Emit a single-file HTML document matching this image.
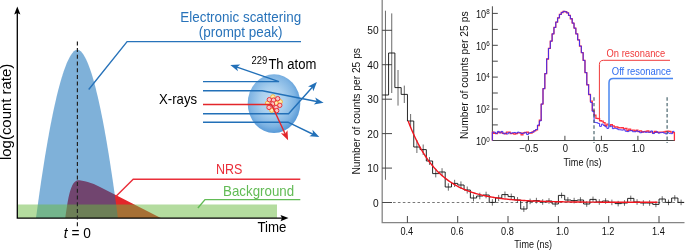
<!DOCTYPE html><html><head><meta charset="utf-8"><style>html,body{margin:0;padding:0;background:#fff}svg{display:block}text{font-family:"Liberation Sans",sans-serif}</style></head><body>
<svg width="685" height="250" viewBox="0 0 685 250">
<rect width="685" height="250" fill="#fff"/>
<path d="M65.3,218.1 C67.5,204 69.5,182.5 77.4,180.3 C83,180.3 92,182.8 100,186.9 L160.8,218.1 Z" fill="#e3262b"/>
<path d="M36.00,218.10 L37.02,210.47 L38.05,203.01 L39.07,195.71 L40.09,188.57 L41.12,181.60 L42.14,174.79 L43.17,168.15 L44.19,161.67 L45.21,155.36 L46.24,149.23 L47.26,143.25 L48.28,137.45 L49.31,131.83 L50.33,126.37 L51.36,121.08 L52.38,115.97 L53.40,111.03 L54.43,106.27 L55.45,101.69 L56.48,97.28 L57.50,93.06 L58.52,89.01 L59.55,85.15 L60.57,81.47 L61.59,77.98 L62.62,74.67 L63.64,71.55 L64.67,68.63 L65.69,65.90 L66.71,63.36 L67.74,61.02 L68.76,58.88 L69.78,56.95 L70.81,55.23 L71.83,53.72 L72.86,52.43 L73.88,51.36 L74.90,50.53 L75.93,49.95 L76.95,49.64 L77.97,49.66 L79.00,50.03 L80.02,50.66 L81.05,51.56 L82.07,52.70 L83.09,54.07 L84.12,55.67 L85.14,57.49 L86.16,59.53 L87.19,61.78 L88.21,64.24 L89.23,66.90 L90.26,69.78 L91.28,72.85 L92.31,76.12 L93.33,79.59 L94.35,83.25 L95.38,87.10 L96.40,91.15 L97.42,95.38 L98.45,99.81 L99.47,104.42 L100.50,109.22 L101.52,114.20 L102.54,119.36 L103.57,124.70 L104.59,130.23 L105.62,135.94 L106.64,141.82 L107.66,147.88 L108.69,154.12 L109.71,160.54 L110.73,167.13 L111.76,173.89 L112.78,180.83 L113.81,187.94 L114.83,195.23 L115.85,202.68 L116.88,210.31 L117.90,218.10 Z" fill="rgb(0,100,180)" fill-opacity="0.5"/>
<rect x="18" y="204.5" width="259" height="13.6" fill="rgb(106,185,64)" fill-opacity="0.5"/>
<path d="M17.3,12 V218.1 H283" fill="none" stroke="#000" stroke-width="1.3"/>
<path d="M17.3,6.5 L20.4,14.5 L17.3,13 L14.2,14.5 Z" fill="#000"/>
<path d="M288.5,218.1 L280.5,221.2 L282,218.1 L280.5,215 Z" fill="#000"/>
<path d="M77.4,226.3 V41.4" stroke="#222" stroke-width="1.2" stroke-dasharray="4,2.7" fill="none"/>
<path d="M88.7,89.5 L127.1,41.6 H301" fill="none" stroke="#2873ba" stroke-width="1.4"/>
<path d="M115.8,196.4 L133.2,179.2 H300.3" fill="none" stroke="#ea2f3a" stroke-width="1.4"/>
<path d="M197.9,208 L205,199.6 H300.3" fill="none" stroke="#62bb55" stroke-width="1.4"/>
<text x="180.3" y="21.8" font-size="15" fill="#2873ba" textLength="120.8" lengthAdjust="spacingAndGlyphs">Electronic scattering</text>
<text x="198.8" y="36.7" font-size="15" fill="#2873ba" textLength="83.6" lengthAdjust="spacingAndGlyphs">(prompt peak)</text>
<text x="215.9" y="174" font-size="14.6" fill="#ea2f3a" textLength="26.4" lengthAdjust="spacingAndGlyphs">NRS</text>
<text x="223.1" y="195.6" font-size="14.5" fill="#62bb55" textLength="71" lengthAdjust="spacingAndGlyphs">Background</text>
<text x="257.4" y="232" font-size="15" fill="#000" textLength="29" lengthAdjust="spacingAndGlyphs">Time</text>
<text x="63.8" y="237.8" font-size="15" fill="#000" textLength="27.1" lengthAdjust="spacingAndGlyphs"><tspan font-style="italic">t</tspan> = 0</text>
<text x="159.1" y="104.4" font-size="15" fill="#000" textLength="38" lengthAdjust="spacingAndGlyphs">X-rays</text>
<text x="251.4" y="63.8" font-size="10.2" fill="#000" textLength="15.8" lengthAdjust="spacingAndGlyphs">229</text>
<text x="268.4" y="68.7" font-size="15.2" fill="#000" textLength="47.9" lengthAdjust="spacingAndGlyphs">Th atom</text>
<text transform="translate(11.1,160) rotate(-90)" font-size="14.6" fill="#000" textLength="96.3" lengthAdjust="spacingAndGlyphs">log(count rate)</text>
<defs><radialGradient id="ag" cx="0.47" cy="0.45" r="0.58"><stop offset="0" stop-color="#c6e0f5"/><stop offset="0.4" stop-color="#a9cfee"/><stop offset="0.75" stop-color="#7fb4e3"/><stop offset="1" stop-color="#4d92d4"/></radialGradient></defs>
<ellipse cx="274" cy="103.6" rx="26.3" ry="29.4" fill="url(#ag)"/>
<g fill="none" stroke="#2270b8" stroke-width="1.4" stroke-linejoin="miter">
<path d="M203,81.6 H279 L237,67.2"/>
<path d="M203,90.7 H262.3 L318,101.7"/>
<path d="M203,113.7 H288.6 L312.5,87"/>
<path d="M203,122.2 H288 L314.5,135"/>
</g>
<path d="M230.30,64.90 L240.26,64.50 L236.92,67.16 L237.94,71.31 Z" fill="#2270b8"/>
<path d="M323.60,102.80 L313.77,104.47 L316.74,101.40 L315.21,97.41 Z" fill="#2270b8"/>
<path d="M316.90,82.00 L313.36,91.32 L312.22,87.21 L308.01,86.51 Z" fill="#2270b8"/>
<path d="M319.30,137.00 L309.36,136.18 L313.00,133.94 L312.51,129.70 Z" fill="#2270b8"/>
<circle cx="272.9" cy="96.9" r="2.2" fill="#fdeeb5" stroke="#f5b335" stroke-width="1"/>
<circle cx="267.6" cy="103.2" r="2.2" fill="#fdeeb5" stroke="#f5b335" stroke-width="1"/>
<circle cx="280.2" cy="101.8" r="2.2" fill="#fdeeb5" stroke="#f5b335" stroke-width="1"/>
<circle cx="271.8" cy="110.2" r="2.2" fill="#fdeeb5" stroke="#f5b335" stroke-width="1"/>
<circle cx="276" cy="103.2" r="2.2" fill="#fdeeb5" stroke="#f5b335" stroke-width="1"/>
<circle cx="269.3" cy="99.7" r="2.2" fill="#f9c3c3" stroke="#e8323a" stroke-width="1"/>
<circle cx="273.5" cy="100.1" r="2.2" fill="#f9c3c3" stroke="#e8323a" stroke-width="1"/>
<circle cx="277.7" cy="98.7" r="2.2" fill="#f9c3c3" stroke="#e8323a" stroke-width="1"/>
<circle cx="279.8" cy="105.3" r="2.2" fill="#f9c3c3" stroke="#e8323a" stroke-width="1"/>
<circle cx="269" cy="107.4" r="2.2" fill="#f9c3c3" stroke="#e8323a" stroke-width="1"/>
<circle cx="276" cy="107.4" r="2.2" fill="#f9c3c3" stroke="#e8323a" stroke-width="1"/>
<circle cx="276.7" cy="110.6" r="2.2" fill="#f9c3c3" stroke="#e8323a" stroke-width="1"/>
<circle cx="272.5" cy="103.9" r="2.2" fill="#f9c3c3" stroke="#e8323a" stroke-width="1"/>
<path d="M203,104.5 H271.5 L285.2,134" fill="none" stroke="#e3262b" stroke-width="1.4"/>
<path d="M288.10,140.20 L280.92,133.28 L285.16,133.85 L287.45,130.25 Z" fill="#e3262b"/>
<path d="M382.2,0 V222.7 H684.5" fill="none" stroke="#858585" stroke-width="1.3"/>
<path d="M382.2,202.5 H392" stroke="#333" stroke-width="0.9" fill="none"/>
<text transform="translate(378.60,206.50) scale(1.0,1)" font-size="10.2" text-anchor="end" fill="#111">0</text>
<path d="M382.2,168.1 H392" stroke="#333" stroke-width="0.9" fill="none"/>
<text transform="translate(378.60,172.06) scale(1.0,1)" font-size="10.2" text-anchor="end" fill="#111">10</text>
<path d="M382.2,133.6 H392" stroke="#333" stroke-width="0.9" fill="none"/>
<text transform="translate(378.60,137.62) scale(1.0,1)" font-size="10.2" text-anchor="end" fill="#111">20</text>
<path d="M382.2,99.2 H392" stroke="#333" stroke-width="0.9" fill="none"/>
<text transform="translate(378.60,103.18) scale(1.0,1)" font-size="10.2" text-anchor="end" fill="#111">30</text>
<path d="M382.2,64.7 H392" stroke="#333" stroke-width="0.9" fill="none"/>
<text transform="translate(378.60,68.74) scale(1.0,1)" font-size="10.2" text-anchor="end" fill="#111">40</text>
<path d="M382.2,30.3 H392" stroke="#333" stroke-width="0.9" fill="none"/>
<text transform="translate(378.60,34.30) scale(1.0,1)" font-size="10.2" text-anchor="end" fill="#111">50</text>
<path d="M407.4,222.7 V216" stroke="#333" stroke-width="0.9" fill="none"/>
<text transform="translate(406.80,235.30) scale(0.92,1)" font-size="10" text-anchor="middle" fill="#111">0.4</text>
<path d="M457.7,222.7 V216" stroke="#333" stroke-width="0.9" fill="none"/>
<text transform="translate(457.12,235.30) scale(0.92,1)" font-size="10" text-anchor="middle" fill="#111">0.6</text>
<path d="M508.0,222.7 V216" stroke="#333" stroke-width="0.9" fill="none"/>
<text transform="translate(507.44,235.30) scale(0.92,1)" font-size="10" text-anchor="middle" fill="#111">0.8</text>
<path d="M558.4,222.7 V216" stroke="#333" stroke-width="0.9" fill="none"/>
<text transform="translate(562.36,235.30) scale(0.92,1)" font-size="10" text-anchor="middle" fill="#111">1.0</text>
<path d="M608.7,222.7 V216" stroke="#333" stroke-width="0.9" fill="none"/>
<text transform="translate(608.08,235.30) scale(0.92,1)" font-size="10" text-anchor="middle" fill="#111">1.2</text>
<path d="M659.0,222.7 V216" stroke="#333" stroke-width="0.9" fill="none"/>
<text transform="translate(658.40,235.30) scale(0.92,1)" font-size="10" text-anchor="middle" fill="#111">1.4</text>
<text x="514.2" y="247.6" font-size="10.4" fill="#111" textLength="37.8" lengthAdjust="spacingAndGlyphs">Time (ns)</text>
<text transform="translate(360.1,174.6) rotate(-90)" font-size="10.3" fill="#111" textLength="126.6" lengthAdjust="spacingAndGlyphs">Number of counts per 25 ps</text>
<path d="M393,202.5 H684" stroke="#555" stroke-width="0.8" stroke-dasharray="2.6,2.3" fill="none"/>
<path d="M385.44,10.7 V179.8 M391.74,13.4 V93.0 M398.03,70.0 V105.6 M404.31,85.6 V103.0 M410.61,114.0 V128.0 M416.89,140.0 V153.0 M423.19,144.5 V155.0 M429.48,157.1 V164.9 M435.76,169.8 V177.4 M442.06,168.2 V175.8 M448.35,183.3 V190.7 M454.63,179.8 V187.0 M460.93,181.4 V188.6 M467.22,186.5 V193.5 M473.50,194.6 V201.4 M479.80,192.7 V199.3 M486.09,191.7 V198.3 M492.38,199.2 V205.6 M498.67,194.9 V201.1 M504.96,191.5 V197.7 M511.25,193.6 V199.6 M517.54,197.1 V202.9 M523.83,206.1 V211.9 M530.12,198.6 V204.2 M536.40,197.8 V203.4 M542.70,199.2 V204.8 M548.99,198.2 V203.8 M555.27,201.2 V206.8 M561.57,192.6 V198.2 M567.86,197.2 V202.8 M574.14,197.8 V203.4 M580.43,197.2 V202.8 M586.73,201.2 V206.8 M593.01,196.6 V202.2 M599.31,199.2 V204.8 M605.60,198.2 V203.8 M611.88,199.6 V205.2 M618.17,200.8 V206.4 M624.47,200.2 V205.8 M630.75,195.6 V201.2 M637.05,199.2 V204.8 M643.34,200.2 V205.8 M649.62,200.2 V205.8 M655.91,201.6 V207.2 M662.21,196.2 V201.8 M668.50,199.6 V205.2 M674.79,195.2 V200.8 M681.08,199.6 V205.2" stroke="#444" stroke-width="0.8" fill="none"/>
<path d="M382.30,95 V95 H388.59 V53 H394.88 V87.6 H401.17 V94.4 H407.46 V121 H413.75 V147 H420.04 V149.6 H426.33 V161 H432.62 V173.6 H438.91 V172 H445.20 V187 H451.49 V183.4 H457.78 V185 H464.07 V190 H470.36 V198 H476.65 V196 H482.94 V195 H489.23 V202.4 H495.52 V198 H501.81 V194.6 H508.10 V196.6 H514.39 V200 H520.68 V209 H526.97 V201.4 H533.26 V200.6 H539.55 V202 H545.84 V201 H552.13 V204 H558.42 V195.4 H564.71 V200 H571.00 V200.6 H577.29 V200 H583.58 V204 H589.87 V199.4 H596.16 V202 H602.45 V201 H608.74 V202.4 H615.03 V203.6 H621.32 V203 H627.61 V198.4 H633.90 V202 H640.19 V203 H646.48 V203 H652.77 V204.4 H659.06 V199 H665.35 V202.4 H671.64 V198 H677.93 V202.4 H684.22" stroke="#111" stroke-width="0.9" fill="none" stroke-linejoin="miter"/>
<path d="M408.21,121.05 L409.20,123.67 L410.20,126.20 L411.20,128.66 L412.19,131.03 L413.19,133.33 L414.19,135.55 L415.19,137.70 L416.18,139.79 L417.18,141.80 L418.18,143.75 L419.17,145.64 L420.17,147.46 L421.17,149.23 L422.17,150.94 L423.16,152.60 L424.16,154.20 L425.16,155.75 L426.15,157.25 L427.15,158.71 L428.15,160.11 L429.15,161.47 L430.14,162.79 L431.14,164.06 L432.14,165.30 L433.13,166.49 L434.13,167.64 L435.13,168.76 L436.13,169.84 L437.12,170.89 L438.12,171.90 L439.12,172.88 L440.11,173.83 L441.11,174.75 L442.11,175.64 L443.11,176.50 L444.10,177.33 L445.10,178.14 L446.10,178.92 L447.09,179.67 L448.09,180.40 L449.09,181.11 L450.09,181.79 L451.08,182.45 L452.08,183.09 L453.08,183.71 L454.07,184.31 L455.07,184.89 L456.07,185.46 L457.07,186.00 L458.06,186.52 L459.06,187.03 L460.06,187.53 L461.05,188.00 L462.05,188.47 L463.05,188.91 L464.05,189.34 L465.04,189.76 L466.04,190.17 L467.04,190.56 L468.03,190.94 L469.03,191.31 L470.03,191.66 L471.03,192.00 L472.02,192.34 L473.02,192.66 L474.02,192.97 L475.01,193.27 L476.01,193.56 L477.01,193.85 L478.00,194.12 L479.00,194.38 L480.00,194.64 L481.00,194.89 L481.99,195.13 L482.99,195.36 L483.99,195.58 L484.98,195.80 L485.98,196.01 L486.98,196.22 L487.98,196.41 L488.97,196.60 L489.97,196.79 L490.97,196.97 L491.96,197.14 L492.96,197.31 L493.96,197.47 L494.96,197.62 L495.95,197.78 L496.95,197.92 L497.95,198.06 L498.94,198.20 L499.94,198.33 L500.94,198.46 L501.94,198.59 L502.93,198.71 L503.93,198.83 L504.93,198.94 L505.92,199.05 L506.92,199.15 L507.92,199.26 L508.92,199.35 L509.91,199.45 L510.91,199.54 L511.91,199.63 L512.90,199.72 L513.90,199.80 L514.90,199.88 L515.90,199.96 L516.89,200.04 L517.89,200.11 L518.89,200.18 L519.88,200.25 L520.88,200.32 L521.88,200.39 L522.88,200.45 L523.87,200.51 L524.87,200.57 L525.87,200.62 L526.86,200.68 L527.86,200.73 L528.86,200.78 L529.86,200.83 L530.85,200.88 L531.85,200.93 L532.85,200.97 L533.84,201.02 L534.84,201.06 L535.84,201.10 L536.84,201.14 L537.83,201.18 L538.83,201.21 L539.83,201.25 L540.82,201.29 L541.82,201.32 L542.82,201.35 L543.82,201.38 L544.81,201.41 L545.81,201.44 L546.81,201.47 L547.80,201.50 L548.80,201.53 L549.80,201.55 L550.80,201.58 L551.79,201.60 L552.79,201.62 L553.79,201.65 L554.78,201.67 L555.78,201.69 L556.78,201.71 L557.78,201.73 L558.77,201.75 L559.77,201.77 L560.77,201.79 L561.76,201.80 L562.76,201.82 L563.76,201.84 L564.76,201.85 L565.75,201.87 L566.75,201.88 L567.75,201.90 L568.74,201.91 L569.74,201.92 L570.74,201.94 L571.74,201.95 L572.73,201.96 L573.73,201.97 L574.73,201.99 L575.72,202.00 L576.72,202.01 L577.72,202.02 L578.72,202.03 L579.71,202.04 L580.71,202.05 L581.71,202.06 L582.70,202.06 L583.70,202.07 L584.70,202.08 L585.70,202.09 L586.69,202.10 L587.69,202.10 L588.69,202.11 L589.68,202.12 L590.68,202.13 L591.68,202.13 L592.68,202.14 L593.67,202.14 L594.67,202.15 L595.67,202.16 L596.66,202.16 L597.66,202.17 L598.66,202.17 L599.66,202.18 L600.65,202.18 L601.65,202.19 L602.65,202.19 L603.64,202.20 L604.64,202.20 L605.64,202.20 L606.64,202.21 L607.63,202.21 L608.63,202.22 L609.63,202.22 L610.62,202.22 L611.62,202.23 L612.62,202.23 L613.62,202.23 L614.61,202.24 L615.61,202.24 L616.61,202.24 L617.60,202.24 L618.60,202.25 L619.60,202.25 L620.60,202.25 L621.59,202.25 L622.59,202.26 L623.59,202.26 L624.58,202.26 L625.58,202.26 L626.58,202.27 L627.58,202.27 L628.57,202.27 L629.57,202.27 L630.57,202.27 L631.56,202.27 L632.56,202.28 L633.56,202.28 L634.56,202.28 L635.55,202.28 L636.55,202.28 L637.55,202.28 L638.54,202.29 L639.54,202.29 L640.54,202.29 L641.54,202.29 L642.53,202.29 L643.53,202.29 L644.53,202.29 L645.52,202.29 L646.52,202.30 L647.52,202.30 L648.52,202.30 L649.51,202.30 L650.51,202.30 L651.51,202.30 L652.50,202.30 L653.50,202.30 L654.50,202.30 L655.50,202.30 L656.49,202.30 L657.49,202.31" stroke="#f0141e" stroke-width="1.4" fill="none"/>
<path d="M492.4,6.3 V140.5 H675" fill="none" stroke="#333" stroke-width="0.9"/>
<text transform="translate(486.20,145.10) scale(0.92,1)" font-size="10" text-anchor="end" fill="#111">10</text>
<text transform="translate(486.30,141.80) scale(0.92,1)" font-size="6.8" text-anchor="start" fill="#111">0</text>
<path d="M492.4,124.9 H497.8" stroke="#333" stroke-width="0.9" fill="none"/>
<path d="M492.4,109.0 H497.8" stroke="#333" stroke-width="0.9" fill="none"/>
<text transform="translate(486.20,113.26) scale(0.92,1)" font-size="10" text-anchor="end" fill="#111">10</text>
<text transform="translate(486.30,109.96) scale(0.92,1)" font-size="6.8" text-anchor="start" fill="#111">2</text>
<path d="M492.4,93.0 H497.8" stroke="#333" stroke-width="0.9" fill="none"/>
<path d="M492.4,77.1 H497.8" stroke="#333" stroke-width="0.9" fill="none"/>
<text transform="translate(486.20,81.42) scale(0.92,1)" font-size="10" text-anchor="end" fill="#111">10</text>
<text transform="translate(486.30,78.12) scale(0.92,1)" font-size="6.8" text-anchor="start" fill="#111">4</text>
<path d="M492.4,61.2 H497.8" stroke="#333" stroke-width="0.9" fill="none"/>
<path d="M492.4,45.3 H497.8" stroke="#333" stroke-width="0.9" fill="none"/>
<text transform="translate(486.20,49.58) scale(0.92,1)" font-size="10" text-anchor="end" fill="#111">10</text>
<text transform="translate(486.30,46.28) scale(0.92,1)" font-size="6.8" text-anchor="start" fill="#111">6</text>
<path d="M492.4,29.4 H497.8" stroke="#333" stroke-width="0.9" fill="none"/>
<path d="M492.4,13.4 H497.8" stroke="#333" stroke-width="0.9" fill="none"/>
<text transform="translate(486.20,17.74) scale(0.92,1)" font-size="10" text-anchor="end" fill="#111">10</text>
<text transform="translate(486.30,14.44) scale(0.92,1)" font-size="6.8" text-anchor="start" fill="#111">8</text>
<path d="M528.4,140.5 V135.8" stroke="#333" stroke-width="0.9" fill="none"/>
<text transform="translate(528.80,151.50) scale(0.95,1)" font-size="10" text-anchor="middle" fill="#111">−0.5</text>
<path d="M564.9,140.5 V135.8" stroke="#333" stroke-width="0.9" fill="none"/>
<text transform="translate(565.30,151.50) scale(0.95,1)" font-size="10" text-anchor="middle" fill="#111">0</text>
<path d="M601.4,140.5 V135.8" stroke="#333" stroke-width="0.9" fill="none"/>
<text transform="translate(601.80,151.50) scale(0.95,1)" font-size="10" text-anchor="middle" fill="#111">0.5</text>
<path d="M637.9,140.5 V135.8" stroke="#333" stroke-width="0.9" fill="none"/>
<text transform="translate(638.30,151.50) scale(0.95,1)" font-size="10" text-anchor="middle" fill="#111">1.0</text>
<text x="563.6" y="165.5" font-size="10.4" fill="#111" textLength="38" lengthAdjust="spacingAndGlyphs">Time (ns)</text>
<text transform="translate(467.6,139) rotate(-90)" font-size="10.3" fill="#111" textLength="127.6" lengthAdjust="spacingAndGlyphs">Number of counts per 25 ps</text>
<path d="M492.40,140.5 V132.14 H493.72 V133.26 H495.55 V133.70 H497.37 V132.64 H499.20 V132.07 H501.02 V132.95 H502.85 V133.33 H504.67 V133.77 H506.50 V132.15 H508.32 V132.09 H510.15 V133.49 H511.97 V133.33 H513.80 V134.07 H515.62 V133.69 H517.45 V132.93 H519.27 V132.81 H521.10 V134.80 H522.93 V132.80 H524.75 V132.45 H526.58 V132.20 H528.40 V133.07 H530.23 V133.03 H532.05 V131.78 H533.88 V130.93 H535.70 V129.95 H537.52 V125.72 H539.35 V120.24 H541.18 V104.13 H543.00 V88.62 H544.83 V73.64 H546.65 V58.98 H548.48 V48.45 H550.30 V41.15 H552.12 V33.85 H553.95 V27.46 H555.77 V22.10 H557.60 V17.90 H559.43 V14.45 H561.25 V12.49 H563.08 V11.37 H564.90 V11.74 H566.73 V12.86 H568.55 V15.46 H570.38 V18.73 H572.20 V23.09 H574.02 V28.16 H575.85 V33.88 H577.68 V39.96 H579.50 V46.04 H581.33 V52.66 H583.15 V60.42 H584.98 V72.58 H586.80 V84.75 H588.62 V94.50 H590.45 V101.15 H592.27 V110.43 H594.10 V115.03 H595.93 V118.40 H597.75 V118.63 H599.58 V120.75 H601.40 V121.11 H603.23 V122.72 H605.05 V125.73 H606.88 V124.19 H608.70 V125.62 H610.52 V124.65 H612.35 V125.85 H614.18 V126.99 H616.00 V126.93 H617.83 V127.73 H619.65 V127.97 H621.48 V127.53 H623.30 V128.95 H625.12 V128.32 H626.95 V130.53 H628.77 V129.19 H630.60 V130.29 H632.42 V130.07 H634.25 V130.99 H636.08 V130.16 H637.90 V131.53 H639.73 V130.95 H641.55 V132.01 H643.38 V131.65 H645.20 V131.40 H647.02 V130.85 H648.85 V132.03 H650.67 V131.91 H652.50 V132.82 H654.33 V131.50 H656.15 V132.24 H657.98 V132.30 H659.80 V132.18 H661.62 V132.07 H663.45 V131.99 H665.27 V131.39 H667.10 V131.04 H668.92 V131.42 H670.75 V132.05 H672.58 V132.64 H674.40 V140.5" stroke="#ff3040" stroke-width="1.3" fill="none"/>
<path d="M492.40,140.5 V132.17 H493.72 V132.20 H495.55 V133.47 H497.37 V131.39 H499.20 V132.90 H501.02 V131.42 H502.85 V133.77 H504.67 V133.14 H506.50 V133.95 H508.32 V132.65 H510.15 V133.28 H511.97 V132.80 H513.80 V132.48 H515.62 V133.10 H517.45 V132.12 H519.27 V132.75 H521.10 V133.49 H522.93 V133.04 H524.75 V132.71 H526.58 V134.53 H528.40 V133.04 H530.23 V132.52 H532.05 V132.13 H533.88 V130.61 H535.70 V129.49 H537.52 V124.99 H539.35 V120.89 H541.18 V104.00 H543.00 V88.62 H544.83 V73.64 H546.65 V58.98 H548.48 V48.45 H550.30 V41.15 H552.12 V33.85 H553.95 V27.46 H555.77 V22.10 H557.60 V17.90 H559.43 V14.45 H561.25 V12.49 H563.08 V11.37 H564.90 V11.74 H566.73 V12.86 H568.55 V15.46 H570.38 V18.73 H572.20 V23.09 H574.02 V28.16 H575.85 V33.88 H577.68 V39.96 H579.50 V46.04 H581.33 V52.66 H583.15 V60.42 H584.98 V72.58 H586.80 V84.75 H588.62 V94.50 H590.45 V102.53 H592.27 V111.60 H594.10 V122.42 H595.93 V122.68 H597.75 V123.39 H599.58 V126.38 H601.40 V124.17 H603.23 V125.48 H605.05 V126.76 H606.88 V128.43 H608.70 V126.72 H610.52 V126.10 H612.35 V128.65 H614.18 V128.20 H616.00 V128.68 H617.83 V129.66 H619.65 V129.82 H621.48 V130.09 H623.30 V129.80 H625.12 V131.23 H626.95 V131.60 H628.77 V130.78 H630.60 V130.67 H632.42 V131.71 H634.25 V131.75 H636.08 V130.91 H637.90 V131.54 H639.73 V132.75 H641.55 V131.99 H643.38 V131.88 H645.20 V132.30 H647.02 V132.17 H648.85 V132.24 H650.67 V130.94 H652.50 V133.56 H654.33 V132.52 H656.15 V131.81 H657.98 V133.16 H659.80 V132.69 H661.62 V132.43 H663.45 V133.10 H665.27 V133.89 H667.10 V132.64 H668.92 V133.30 H670.75 V133.65 H672.58 V131.36 H674.40" stroke="#3d2cf2" stroke-width="1.0" fill="none" stroke-opacity="0.95"/>
<path d="M594,97.3 V143 M667.1,97.3 V143" stroke="#3d5a63" stroke-width="1.1" stroke-dasharray="3.4,2.2" fill="none"/>
<path d="M599.4,118 V64.5 Q599.4,60.3 603.6,60.3 H670" stroke="#f03a3a" stroke-width="1" fill="none"/>
<path d="M609,127 V82.7 Q609,78.5 613.2,78.5 H673" stroke="#4a86f0" stroke-width="1.5" fill="none"/>
<text x="606.6" y="56.9" font-size="10.4" fill="#f03a3a" textLength="58.6" lengthAdjust="spacingAndGlyphs">On resonance</text>
<text x="611.8" y="74.8" font-size="10.4" fill="#2f6df0" textLength="59.3" lengthAdjust="spacingAndGlyphs">Off resonance</text>
</svg></body></html>
